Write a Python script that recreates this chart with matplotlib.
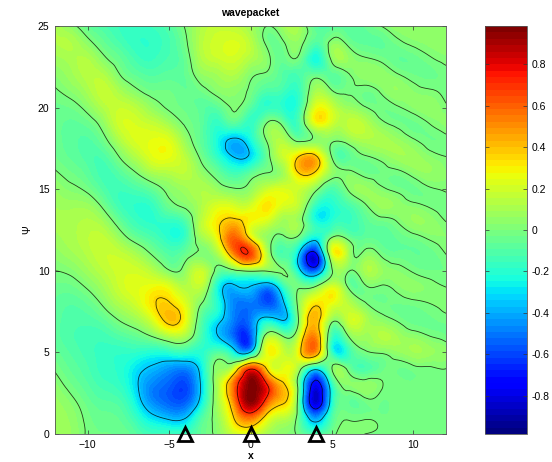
import numpy as np
import matplotlib
matplotlib.use('Agg')
import matplotlib.pyplot as plt
import matplotlib.tri as mtri
from matplotlib.cm import ScalarMappable
from matplotlib.colors import Normalize

plt.rcParams['font.family'] = ['Liberation Sans', 'DejaVu Sans']

# grid
x_grid = list(range(-12, 13))
y_grid = list(range(25, -1, -1))

# one list per x, going from y=25 down to y=0, in hundredths
z_pct = [
    [12, 12, 8, 3, -1, -4, -5, -5, -3, 1, 6, 9, 10, 8, 4, 0, -4, -7, -8, -8, -5, -1, 4, 7, 8, 8],
    [3, 12, 11, 8, 3, -3, -7, -8, -7, -3, 2, 8, 11, 11, 8, 2, -4, -9, -11, -12, -10, -7, -3, 2, 5, 6],
    [-6, 3, 12, 14, 10, 3, -5, -10, -11, -8, -2, 7, 13, 15, 13, 8, 1, -6, -11, -14, -14, -12, -9, -5, -2, -1],
    [-12, -6, 2, 12, 17, 13, 5, -3, -11, -14, -11, -3, 8, 16, 18, 15, 9, 2, -7, -14, -17, -17, -14, -9, -5, -3],
    [-16, -13, -6, 0, 10, 18, 20, 12, 1, -9, -15, -15, -6, 6, 17, 20, 19, 12, 1, -10, -18, -20, -18, -12, -7, -4],
    [-17, -18, -14, -7, 2, 14, 21, 22, 13, 0, -12, -19, -16, -5, 10, 20, 24, 20, 8, -6, -19, -30, -33, -28, -18, -9],
    [-15, -18, -16, -10, -3, 5, 17, 25, 24, 10, -6, -17, -19, -12, -1, 13, 27, 33, 22, 1, -22, -38, -48, -47, -31, -15],
    [-10, -13, -12, -8, -3, -1, 9, 23, 25, 13, 3, -4, -18, -20, -10, 1, 24, 36, 40, 12, -20, -45, -55, -55, -38, -15],
    [1, -2, -5, -6, -6, -4, -1, 6, 14, 15, 8, 2, -12, -16, -5, 5, 13, 22, 26, 10, -18, -48, -60, -56, -36, -15],
    [12, 14, 12, 5, -3, -8, -8, -8, -3, 5, 12, 12, 15, 8, 1, 18, 14, 0, -10, -14, -20, -28, -32, -28, -12, -6],
    [17, 20, 18, 9, 3, -8, -18, -25, -20, -6, 6, 22, 32, 28, 10, -5, -25, -22, -30, -35, -10, 5, 12, 10, 6, 3],
    [15, 22, 20, 12, 4, 1, -10, -38, -36, -15, 1, 20, 40, 60, 50, -3, -38, -48, -50, -55, -28, 20, 58, 52, 36, 18],
    [8, 14, 12, 2, -2, -10, -18, -25, -32, -8, 5, 20, 28, 32, 66, 2, -36, -50, -50, -58, -34, 68, 97, 96, 56, 20],
    [0, -2, 3, -2, -12, -18, 1, 1, -6, 0, 18, 32, 20, 5, 14, 1, -48, -58, -28, 7, 25, 34, 72, 62, 28, 10],
    [8, -1, -5, -10, -15, -20, -4, 12, 18, 8, 22, 22, 8, -3, -12, 1, -20, -38, -36, -1, 18, 24, 38, 38, 15, 3],
    [8, 4, -3, -12, -16, -16, -12, -3, 36, 36, 18, 14, 6, -6, -38, -30, -1, 6, 4, 18, 30, 6, -10, -12, -8, -3],
    [-10, -10, -24, -5, 10, 24, 24, 3, 38, 32, 3, -18, -22, -28, -75, -55, 2, 32, 42, 50, 48, -30, -78, -85, -45, -12],
    [-10, 3, 3, -8, 1, 18, 18, 2, -1, 5, -12, -22, -20, 2, 18, -1, 22, 25, 5, -15, -18, 0, -22, -25, -12, -3],
    [-9, -3, 6, -1, -1, 7, 16, 5, -8, 2, 1, -13, -16, -3, 10, 1, -1, 14, 18, 0, -18, -3, 3, -6, -1, 2],
    [-6, -7, 1, 5, -3, 1, 14, 11, -1, -3, 7, -2, -9, -7, 3, 10, -2, 1, 13, 8, -2, -12, 5, -3, -1, 0],
    [0, -7, -2, 5, 1, -3, 3, 11, 3, -3, 2, 7, -4, -8, -1, 7, -1, -3, 4, 13, 1, -5, 1, -3, -2, -1],
    [5, -2, -6, 1, 6, -1, -2, 7, 8, -2, -2, 5, 0, -6, -5, 3, 2, -3, -1, 9, 5, -3, -1, -1, -1, -1],
    [5, 2, -5, -3, 3, 3, -4, 1, 8, 3, -4, 2, 6, -3, -6, -1, 4, -2, -5, 4, 9, -2, -2, -1, -1, -1],
    [5, 4, -1, -4, 1, 5, 0, -3, 3, 6, -1, -1, 5, 1, -5, -3, 2, 0, -4, 0, 7, -1, -1, -1, -1, -1],
    [5, 5, 2, -2, -2, 1, 4, -2, 0, 3, 1, -3, 0, 3, 0, -3, 0, 2, -2, -3, 4, 0, -1, -1, -1, -1],
]

x_ticks = [-10, -5, 0, 5, 10]
y_ticks = [0, 5, 10, 15, 20, 25]
cbar_ticks = [-0.8, -0.6, -0.4, -0.2, 0, 0.2, 0.4, 0.6, 0.8]
cbar_labels = ['-0.8', '-0.6', '-0.4', '-0.2', '0', '0.2', '0.4', '0.6', '0.8']
line_levels = [-0.7, -0.35, 0, 0.35, 0.7]
marker_x = [-4, 0, 4]
marker_y = [0, 0, 0]

vmax = 0.985
W, H = 552, 462

z = np.array(z_pct, dtype=float) / 100
X, Y = np.meshgrid(x_grid, y_grid, indexing='ij')

# smooth the read values with matplotlib's own mesh refiner
tri = mtri.Triangulation(X.ravel(), Y.ravel())
refiner = mtri.UniformTriRefiner(tri)
tri_f, z_f = refiner.refine_field(z.ravel(), subdiv=3)

cmap = plt.get_cmap('jet', 64)
norm = Normalize(-vmax, vmax)

fig = plt.figure(figsize=(W / 100, H / 100), dpi=100, facecolor='w')
ax = fig.add_axes([55 / W, (H - 434) / H, 391 / W, 408 / H])

ax.tricontourf(tri_f, z_f, levels=np.linspace(-vmax, vmax, 65), cmap=cmap,
               norm=norm, extend='both')
ax.tricontour(tri_f, z_f, levels=line_levels, colors='k', linewidths=0.6,
              linestyles='solid', alpha=0.75)
ax.plot(marker_x, marker_y, '^', ms=10, mfc='none', mec='k', mew=2,
        clip_on=False, zorder=5)

ax.set_xlim(-12, 12)
ax.set_ylim(0, 25)
ax.set_xticks(x_ticks)
ax.set_yticks(y_ticks)
ax.tick_params(direction='in', length=3, width=0.5, labelsize=7.5, top=True,
               right=True, pad=4, color='#333333')
ax.set_title('wavepacket', fontsize=7.5, fontweight='bold', pad=7)
ax.set_xlabel('x', fontsize=7.5, fontweight='bold', labelpad=1)
ax.set_ylabel('Ψ', fontsize=7.5, labelpad=4)
for spine in ax.spines.values():
    spine.set_linewidth(0.6)
    spine.set_color('#555555')

cax = fig.add_axes([485 / W, (H - 434) / H, 42 / W, 408 / H])
cb = fig.colorbar(ScalarMappable(norm=norm, cmap=cmap), cax=cax,
                  ticks=cbar_ticks)
cb.ax.set_yticklabels(cbar_labels)
cb.ax.tick_params(direction='in', length=3, width=0.5, labelsize=7.5, left=True,
                  right=True, pad=3, color='#333333')
cb.outline.set_linewidth(0.6)
cb.outline.set_edgecolor('#555555')

fig.savefig('out.png', dpi=100)
